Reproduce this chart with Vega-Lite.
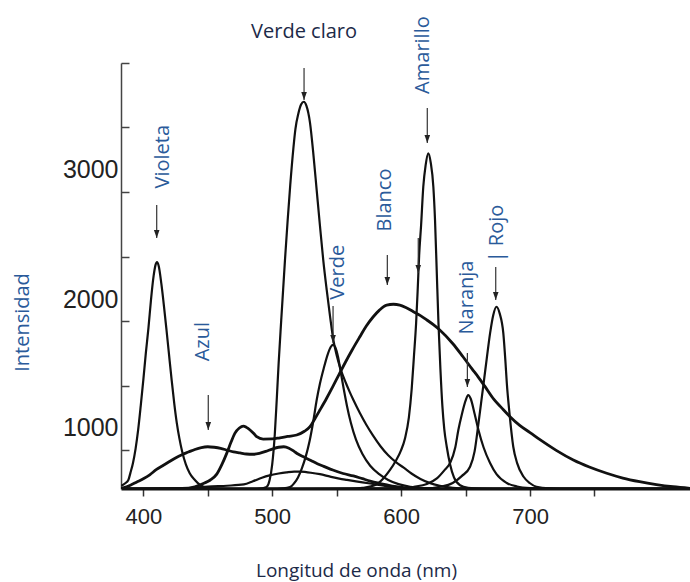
{
  "$schema": "https://vega.github.io/schema/vega-lite/v6.json",
  "width": 569,
  "height": 426,
  "autosize": {"type": "none"},
  "padding": {"left": 121, "top": 63, "right": 0, "bottom": 93},
  "background": "white",
  "config": {"view": {"stroke": null}, "axis": {"grid": false}},
  "datasets": {
    "curves": [
      {"s":"violeta","nm":383,"v":555},{"s":"violeta","nm":386,"v":575},{"s":"violeta","nm":388.4,"v":600},{"s":"violeta","nm":390,"v":655},{"s":"violeta","nm":392,"v":731},{"s":"violeta","nm":394,"v":840},{"s":"violeta","nm":396,"v":985},{"s":"violeta","nm":398,"v":1170},{"s":"violeta","nm":400,"v":1369},{"s":"violeta","nm":402,"v":1580},{"s":"violeta","nm":404,"v":1770},{"s":"violeta","nm":406,"v":1990},{"s":"violeta","nm":408,"v":2170},{"s":"violeta","nm":409.5,"v":2255},{"s":"violeta","nm":410.6,"v":2277},{"s":"violeta","nm":412,"v":2245},{"s":"violeta","nm":414,"v":2110},{"s":"violeta","nm":416,"v":1940},{"s":"violeta","nm":418,"v":1754},{"s":"violeta","nm":420,"v":1560},{"s":"violeta","nm":422,"v":1369},{"s":"violeta","nm":424,"v":1190},{"s":"violeta","nm":426,"v":1038},{"s":"violeta","nm":428,"v":920},{"s":"violeta","nm":430,"v":825},{"s":"violeta","nm":433,"v":720},{"s":"violeta","nm":436,"v":652},{"s":"violeta","nm":440,"v":600},{"s":"violeta","nm":444,"v":562},{"s":"violeta","nm":450,"v":540},{"s":"violeta","nm":460,"v":533},{"s":"violeta","nm":480,"v":531},{"s":"violeta","nm":824,"v":531},

      {"s":"azul","nm":383,"v":535},{"s":"azul","nm":390,"v":560},{"s":"azul","nm":395,"v":585},{"s":"azul","nm":400,"v":610},{"s":"azul","nm":405,"v":640},{"s":"azul","nm":410,"v":680},{"s":"azul","nm":415,"v":710},{"s":"azul","nm":420,"v":740},{"s":"azul","nm":425,"v":770},{"s":"azul","nm":430,"v":795},{"s":"azul","nm":435,"v":815},{"s":"azul","nm":440,"v":835},{"s":"azul","nm":445,"v":850},{"s":"azul","nm":450,"v":856},{"s":"azul","nm":455,"v":852},{"s":"azul","nm":460,"v":844},{"s":"azul","nm":465,"v":830},{"s":"azul","nm":470,"v":816},{"s":"azul","nm":475,"v":808},{"s":"azul","nm":480,"v":800},{"s":"azul","nm":485,"v":798},{"s":"azul","nm":490,"v":805},{"s":"azul","nm":495,"v":820},{"s":"azul","nm":500,"v":838},{"s":"azul","nm":505,"v":852},{"s":"azul","nm":509,"v":856},{"s":"azul","nm":513,"v":845},{"s":"azul","nm":517,"v":820},{"s":"azul","nm":520,"v":800},{"s":"azul","nm":525,"v":775},{"s":"azul","nm":530,"v":750},{"s":"azul","nm":535,"v":725},{"s":"azul","nm":540,"v":705},{"s":"azul","nm":547,"v":677},{"s":"azul","nm":555,"v":650},{"s":"azul","nm":563,"v":631},{"s":"azul","nm":570,"v":610},{"s":"azul","nm":576,"v":592},{"s":"azul","nm":583,"v":575},{"s":"azul","nm":589,"v":562},{"s":"azul","nm":595,"v":550},{"s":"azul","nm":602,"v":542},{"s":"azul","nm":610,"v":536},{"s":"azul","nm":620,"v":533},{"s":"azul","nm":640,"v":531},{"s":"azul","nm":824,"v":531},

      {"s":"bajo","nm":383,"v":531},{"s":"bajo","nm":430,"v":533},{"s":"bajo","nm":440,"v":540},{"s":"bajo","nm":450,"v":550},{"s":"bajo","nm":465,"v":556},{"s":"bajo","nm":478,"v":566},{"s":"bajo","nm":485,"v":590},{"s":"bajo","nm":492,"v":618},{"s":"bajo","nm":498,"v":636},{"s":"bajo","nm":505,"v":650},{"s":"bajo","nm":511,"v":659},{"s":"bajo","nm":517,"v":665},{"s":"bajo","nm":522,"v":664},{"s":"bajo","nm":530,"v":656},{"s":"bajo","nm":537,"v":645},{"s":"bajo","nm":545,"v":626},{"s":"bajo","nm":552,"v":611},{"s":"bajo","nm":558,"v":601},{"s":"bajo","nm":565,"v":590},{"s":"bajo","nm":576,"v":573},{"s":"bajo","nm":590,"v":550},{"s":"bajo","nm":602,"v":537},{"s":"bajo","nm":620,"v":531},{"s":"bajo","nm":824,"v":531},

      {"s":"blanco","nm":383,"v":531},{"s":"blanco","nm":430,"v":535},{"s":"blanco","nm":440,"v":548},{"s":"blanco","nm":447,"v":575},{"s":"blanco","nm":452,"v":600},{"s":"blanco","nm":457,"v":645},{"s":"blanco","nm":461,"v":720},{"s":"blanco","nm":464.7,"v":805},{"s":"blanco","nm":468,"v":890},{"s":"blanco","nm":471,"v":959},{"s":"blanco","nm":474.5,"v":1000},{"s":"blanco","nm":477.6,"v":1015},{"s":"blanco","nm":480,"v":1005},{"s":"blanco","nm":482.8,"v":985},{"s":"blanco","nm":485.5,"v":960},{"s":"blanco","nm":488,"v":933},{"s":"blanco","nm":493,"v":915},{"s":"blanco","nm":500,"v":916},{"s":"blanco","nm":506,"v":925},{"s":"blanco","nm":512,"v":935},{"s":"blanco","nm":519,"v":946},{"s":"blanco","nm":525,"v":975},{"s":"blanco","nm":529.3,"v":1010},{"s":"blanco","nm":533,"v":1070},{"s":"blanco","nm":537,"v":1138},{"s":"blanco","nm":542,"v":1225},{"s":"blanco","nm":547,"v":1318},{"s":"blanco","nm":552,"v":1415},{"s":"blanco","nm":557,"v":1510},{"s":"blanco","nm":562,"v":1600},{"s":"blanco","nm":568,"v":1702},{"s":"blanco","nm":573,"v":1785},{"s":"blanco","nm":578.4,"v":1856},{"s":"blanco","nm":583,"v":1905},{"s":"blanco","nm":588.8,"v":1946},{"s":"blanco","nm":594,"v":1952},{"s":"blanco","nm":599,"v":1946},{"s":"blanco","nm":604,"v":1925},{"s":"blanco","nm":609.5,"v":1895},{"s":"blanco","nm":615,"v":1865},{"s":"blanco","nm":620,"v":1831},{"s":"blanco","nm":625,"v":1795},{"s":"blanco","nm":630,"v":1754},{"s":"blanco","nm":640,"v":1650},{"s":"blanco","nm":648,"v":1548},{"s":"blanco","nm":655,"v":1455},{"s":"blanco","nm":660,"v":1390},{"s":"blanco","nm":665,"v":1320},{"s":"blanco","nm":672,"v":1220},{"s":"blanco","nm":678,"v":1155},{"s":"blanco","nm":684.5,"v":1087},{"s":"blanco","nm":692,"v":1020},{"s":"blanco","nm":700,"v":965},{"s":"blanco","nm":708,"v":908},{"s":"blanco","nm":720,"v":830},{"s":"blanco","nm":733.6,"v":754},{"s":"blanco","nm":746,"v":700},{"s":"blanco","nm":759.5,"v":652},{"s":"blanco","nm":772,"v":615},{"s":"blanco","nm":785,"v":587},{"s":"blanco","nm":798,"v":565},{"s":"blanco","nm":811,"v":548},{"s":"blanco","nm":824,"v":536},

      {"s":"verdeclaro","nm":383,"v":531},{"s":"verdeclaro","nm":485,"v":531},{"s":"verdeclaro","nm":490,"v":533},{"s":"verdeclaro","nm":494,"v":540},{"s":"verdeclaro","nm":496,"v":550},{"s":"verdeclaro","nm":498,"v":600},{"s":"verdeclaro","nm":500,"v":720},{"s":"verdeclaro","nm":502,"v":950},{"s":"verdeclaro","nm":503.5,"v":1215},{"s":"verdeclaro","nm":505,"v":1500},{"s":"verdeclaro","nm":507,"v":1830},{"s":"verdeclaro","nm":509.9,"v":2292},{"s":"verdeclaro","nm":512,"v":2600},{"s":"verdeclaro","nm":514,"v":2870},{"s":"verdeclaro","nm":516.4,"v":3150},{"s":"verdeclaro","nm":518,"v":3300},{"s":"verdeclaro","nm":520.3,"v":3420},{"s":"verdeclaro","nm":522.5,"v":3490},{"s":"verdeclaro","nm":524.5,"v":3510},{"s":"verdeclaro","nm":526.5,"v":3480},{"s":"verdeclaro","nm":529.3,"v":3350},{"s":"verdeclaro","nm":532,"v":3100},{"s":"verdeclaro","nm":534.5,"v":2830},{"s":"verdeclaro","nm":537,"v":2560},{"s":"verdeclaro","nm":539.6,"v":2292},{"s":"verdeclaro","nm":542.3,"v":2061},{"s":"verdeclaro","nm":545,"v":1850},{"s":"verdeclaro","nm":547.4,"v":1680},{"s":"verdeclaro","nm":550,"v":1560},{"s":"verdeclaro","nm":553,"v":1455},{"s":"verdeclaro","nm":557,"v":1350},{"s":"verdeclaro","nm":560,"v":1280},{"s":"verdeclaro","nm":563,"v":1215},{"s":"verdeclaro","nm":568,"v":1115},{"s":"verdeclaro","nm":573,"v":1025},{"s":"verdeclaro","nm":578,"v":945},{"s":"verdeclaro","nm":584,"v":860},{"s":"verdeclaro","nm":590,"v":790},{"s":"verdeclaro","nm":596,"v":737},{"s":"verdeclaro","nm":602,"v":695},{"s":"verdeclaro","nm":608,"v":650},{"s":"verdeclaro","nm":615,"v":608},{"s":"verdeclaro","nm":622,"v":578},{"s":"verdeclaro","nm":630,"v":556},{"s":"verdeclaro","nm":640,"v":540},{"s":"verdeclaro","nm":652,"v":533},{"s":"verdeclaro","nm":670,"v":531},{"s":"verdeclaro","nm":824,"v":531},

      {"s":"verde","nm":383,"v":531},{"s":"verde","nm":500,"v":531},{"s":"verde","nm":508,"v":535},{"s":"verde","nm":513.8,"v":545},{"s":"verde","nm":517,"v":575},{"s":"verde","nm":520,"v":620},{"s":"verde","nm":523,"v":690},{"s":"verde","nm":526,"v":780},{"s":"verde","nm":529,"v":900},{"s":"verde","nm":532,"v":1060},{"s":"verde","nm":534.5,"v":1215},{"s":"verde","nm":537,"v":1340},{"s":"verde","nm":540,"v":1460},{"s":"verde","nm":543,"v":1565},{"s":"verde","nm":545.5,"v":1625},{"s":"verde","nm":547.2,"v":1642},{"s":"verde","nm":549,"v":1620},{"s":"verde","nm":551,"v":1550},{"s":"verde","nm":553,"v":1440},{"s":"verde","nm":555.5,"v":1300},{"s":"verde","nm":558,"v":1170},{"s":"verde","nm":561,"v":1040},{"s":"verde","nm":565,"v":910},{"s":"verde","nm":570,"v":800},{"s":"verde","nm":576,"v":710},{"s":"verde","nm":583,"v":645},{"s":"verde","nm":590,"v":600},{"s":"verde","nm":598,"v":568},{"s":"verde","nm":607,"v":548},{"s":"verde","nm":618,"v":537},{"s":"verde","nm":630,"v":532},{"s":"verde","nm":824,"v":531},

      {"s":"amarillo","nm":383,"v":531},{"s":"amarillo","nm":560,"v":532},{"s":"amarillo","nm":570,"v":540},{"s":"amarillo","nm":580,"v":561},{"s":"amarillo","nm":586,"v":610},{"s":"amarillo","nm":591.4,"v":677},{"s":"amarillo","nm":596,"v":750},{"s":"amarillo","nm":600,"v":830},{"s":"amarillo","nm":603,"v":920},{"s":"amarillo","nm":606,"v":1080},{"s":"amarillo","nm":608.2,"v":1300},{"s":"amarillo","nm":610,"v":1560},{"s":"amarillo","nm":611.6,"v":1800},{"s":"amarillo","nm":612.8,"v":2050},{"s":"amarillo","nm":614,"v":2330},{"s":"amarillo","nm":615.5,"v":2560},{"s":"amarillo","nm":617.2,"v":2856},{"s":"amarillo","nm":619,"v":3020},{"s":"amarillo","nm":621.1,"v":3113},{"s":"amarillo","nm":623,"v":3040},{"s":"amarillo","nm":625,"v":2856},{"s":"amarillo","nm":626.3,"v":2600},{"s":"amarillo","nm":627.6,"v":2215},{"s":"amarillo","nm":629,"v":1800},{"s":"amarillo","nm":630.5,"v":1450},{"s":"amarillo","nm":632,"v":1170},{"s":"amarillo","nm":633.5,"v":990},{"s":"amarillo","nm":635.4,"v":856},{"s":"amarillo","nm":638,"v":720},{"s":"amarillo","nm":641,"v":620},{"s":"amarillo","nm":645.7,"v":560},{"s":"amarillo","nm":652,"v":540},{"s":"amarillo","nm":662,"v":533},{"s":"amarillo","nm":680,"v":531},{"s":"amarillo","nm":824,"v":531},

      {"s":"naranja","nm":383,"v":531},{"s":"naranja","nm":600,"v":535},{"s":"naranja","nm":610,"v":548},{"s":"naranja","nm":620,"v":570},{"s":"naranja","nm":628,"v":615},{"s":"naranja","nm":634,"v":680},{"s":"naranja","nm":638,"v":731},{"s":"naranja","nm":642,"v":850},{"s":"naranja","nm":644.4,"v":985},{"s":"naranja","nm":647,"v":1100},{"s":"naranja","nm":650,"v":1210},{"s":"naranja","nm":652,"v":1254},{"s":"naranja","nm":654,"v":1225},{"s":"naranja","nm":657,"v":1110},{"s":"naranja","nm":660,"v":985},{"s":"naranja","nm":664,"v":850},{"s":"naranja","nm":669,"v":731},{"s":"naranja","nm":674,"v":645},{"s":"naranja","nm":682,"v":577},{"s":"naranja","nm":690,"v":550},{"s":"naranja","nm":700,"v":538},{"s":"naranja","nm":720,"v":532},{"s":"naranja","nm":824,"v":531},

      {"s":"rojo","nm":383,"v":531},{"s":"rojo","nm":620,"v":535},{"s":"rojo","nm":630,"v":548},{"s":"rojo","nm":640,"v":577},{"s":"rojo","nm":647,"v":630},{"s":"rojo","nm":653.5,"v":702},{"s":"rojo","nm":657,"v":820},{"s":"rojo","nm":660,"v":1036},{"s":"rojo","nm":662,"v":1190},{"s":"rojo","nm":664,"v":1344},{"s":"rojo","nm":666.5,"v":1540},{"s":"rojo","nm":669,"v":1728},{"s":"rojo","nm":671.5,"v":1870},{"s":"rojo","nm":674,"v":1933},{"s":"rojo","nm":676.5,"v":1880},{"s":"rojo","nm":679.3,"v":1728},{"s":"rojo","nm":681,"v":1500},{"s":"rojo","nm":682,"v":1344},{"s":"rojo","nm":684,"v":1120},{"s":"rojo","nm":687,"v":856},{"s":"rojo","nm":690,"v":730},{"s":"rojo","nm":695,"v":625},{"s":"rojo","nm":700,"v":575},{"s":"rojo","nm":705,"v":548},{"s":"rojo","nm":715,"v":535},{"s":"rojo","nm":730,"v":531},{"s":"rojo","nm":824,"v":531}
    ],
    "arrows": [
      {"nm":410.4,"v":2715,"v2":2462},
      {"nm":450.4,"v":1254,"v2":985},
      {"nm":524.7,"v":3769,"v2":3523},
      {"nm":547.2,"v":1938,"v2":1654},
      {"nm":589.3,"v":2331,"v2":2100},
      {"nm":620.3,"v":3462,"v2":3192},
      {"nm":613.3,"v":2462,"v2":2192},
      {"nm":651.4,"v":1577,"v2":1315},
      {"nm":673.4,"v":2238,"v2":1985}
    ],
    "heads": [
      {"nm":410.4,"v":2462},
      {"nm":450.4,"v":985},
      {"nm":524.7,"v":3523},
      {"nm":547.2,"v":1654},
      {"nm":589.3,"v":2100},
      {"nm":620.3,"v":3192},
      {"nm":613.3,"v":2192},
      {"nm":651.4,"v":1315},
      {"nm":673.4,"v":1985}
    ],
    "vlabels": [
      {"t":"Violeta","nm":415.5,"v":3087},
      {"t":"Azul","nm":446.3,"v":1664},
      {"t":"Verde","nm":551.2,"v":2198},
      {"t":"Blanco","nm":587.5,"v":2754},
      {"t":"Amarillo","nm":617.2,"v":3869},
      {"t":"Naranja","nm":650.9,"v":2004},
      {"t":"| Rojo","nm":674.2,"v":2496}
    ],
    "hlabels": [
      {"t":"Verde claro","nm":524.7,"v":4048}
    ]
  },
  "encoding": {
    "x": {
      "field": "nm", "type": "quantitative",
      "scale": {"domain": [382.7, 824.1], "nice": false, "zero": false},
      "axis": {
        "title": "Longitud de onda (nm)",
        "values": [400, 450, 500, 550, 600, 650, 700, 750],
        "labelExpr": "datum.value % 100 === 0 ? datum.label : ''",
        "labelOverlap": false,
        "labelFlush": false,
        "tickSize": 7, "tickColor": "#333", "tickWidth": 1.5,
        "domainColor": "#111", "domainWidth": 2,
        "labelFont": "Liberation Sans", "labelFontSize": 22, "labelColor": "#222", "labelPadding": 10,
        "titleFont": "Open Sans", "titleFontSize": 19, "titleFontWeight": "normal", "titleColor": "#1c2a48",
        "titleX": 235, "titleY": 81, "titleBaseline": "middle", "titleAlign": "center"
      }
    },
    "y": {
      "field": "v", "type": "quantitative",
      "scale": {"domain": [530.8, 3808], "nice": false, "zero": false},
      "axis": {
        "title": "Intensidad",
        "values": [831, 1325, 1823, 2318, 2818, 3318, 3808],
        "labelExpr": "datum.value === 831 ? '1000' : datum.value === 1823 ? '2000' : datum.value === 2818 ? '3000' : ''",
        "labelOverlap": false,
        "labelFlush": false,
        "labelOffset": -22,
        "tickSize": -8, "labelPadding": 11,
        "tickColor": "#444", "tickWidth": 1.5,
        "domainColor": "#444", "domainWidth": 1.5,
        "labelFont": "Liberation Sans", "labelFontSize": 25, "labelColor": "#222",
        "titleFont": "Open Sans", "titleFontSize": 20, "titleFontWeight": "normal", "titleColor": "#2a5a9a",
        "titleX": -99, "titleY": 259, "titleAngle": 270, "titleBaseline": "middle", "titleAlign": "center"
      }
    }
  },
  "layer": [
    {
      "data": {"name": "curves"},
      "mark": {"type": "line", "color": "#111", "clip": true, "interpolate": "monotone"},
      "encoding": {
        "detail": {"field": "s", "type": "nominal"},
        "strokeWidth": {"condition": {"test": "datum.s === 'blanco' || datum.s === 'azul'", "value": 2.8}, "value": 2.2}
      }
    },
    {
      "data": {"name": "arrows"},
      "mark": {"type": "rule", "color": "#333", "strokeWidth": 1.2},
      "encoding": {"y2": {"field": "v2"}}
    },
    {
      "data": {"name": "heads"},
      "mark": {"type": "point", "shape": "M-0.35,-1L0.35,-1L0,0Z", "filled": true, "color": "#222", "size": 256, "opacity": 1},
      "encoding": {}
    },
    {
      "data": {"name": "vlabels"},
      "mark": {"type": "text", "angle": 270, "align": "center", "baseline": "middle", "font": "Open Sans", "fontSize": 20, "color": "#2a5a9a"},
      "encoding": {"text": {"field": "t"}}
    },
    {
      "data": {"name": "hlabels"},
      "mark": {"type": "text", "align": "center", "baseline": "middle", "font": "Open Sans", "fontSize": 20, "color": "#1c2a48"},
      "encoding": {"text": {"field": "t"}}
    }
  ]
}
